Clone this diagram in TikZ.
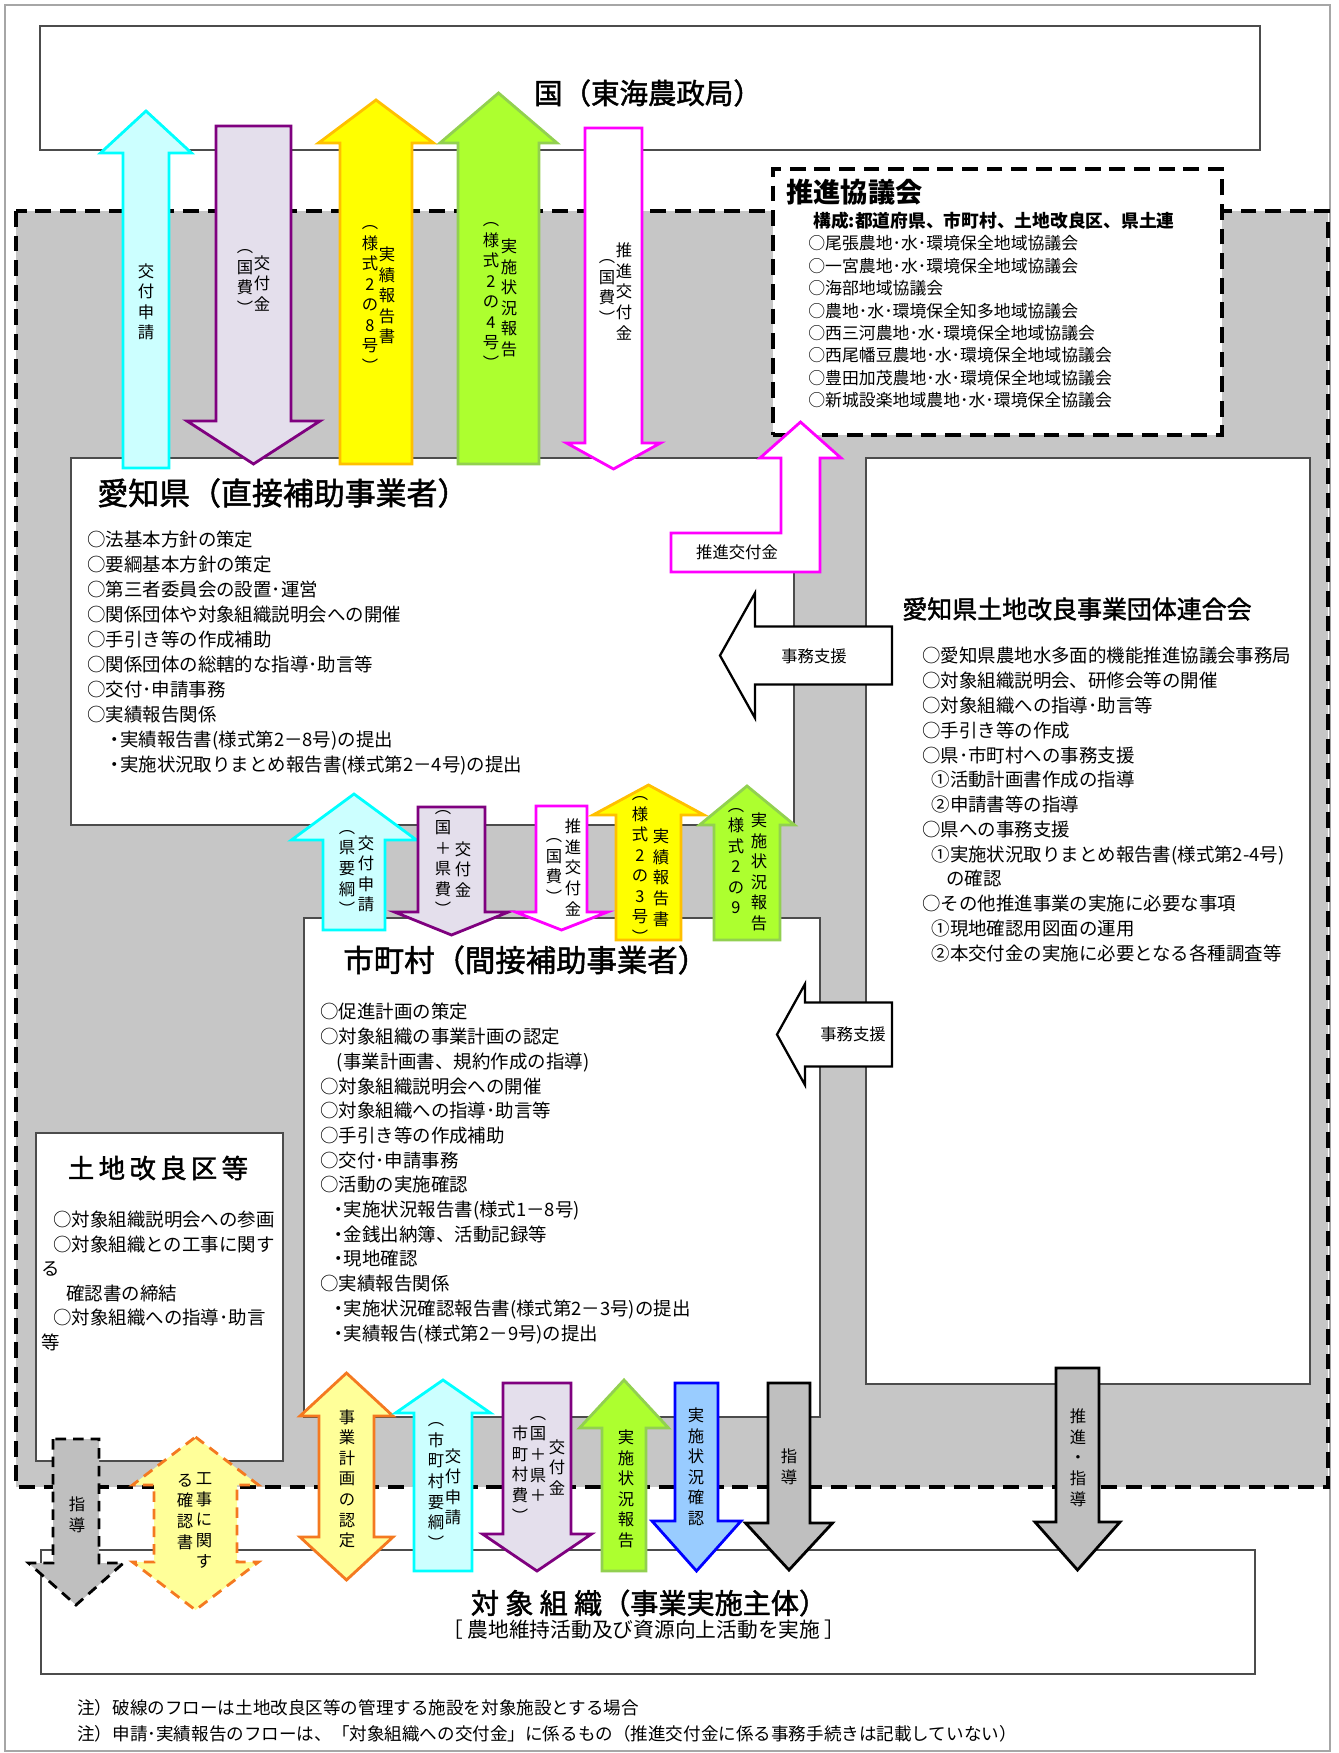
\documentclass[tikz,border=0pt]{standalone}
\usepackage{fontspec}
\setmainfont{Noto Sans CJK JP}
\newfontfamily\titlefont{Noto Sans CJK JP}[FakeBold=1.6]
\usetikzlibrary{fit}

\definecolor{cyanline}{HTML}{00FFFF}
\definecolor{cyanfill}{HTML}{CCFFFF}
\definecolor{purpleline}{HTML}{7F007F}
\definecolor{purplefill}{HTML}{E4DFEC}
\definecolor{yellowline}{HTML}{FFC000}
\definecolor{yellowfill}{HTML}{FFFF00}
\definecolor{greenline}{HTML}{92D050}
\definecolor{greenfill}{HTML}{ADFF2F}
\definecolor{pinkline}{HTML}{FF00FF}
\definecolor{orangeline}{HTML}{F47920}
\definecolor{paleyellow}{HTML}{FFFF99}
\definecolor{blueline}{HTML}{0000FF}
\definecolor{bluefill}{HTML}{99CCFF}
\definecolor{arrowgray}{HTML}{BFBFBF}
\definecolor{areagray}{HTML}{C6C6C6}

% block arrows: style, x, half shaft, half head, tail y, head y, tip y
\newcommand{\blockarr}[7]{\draw[#1] ({#2-#3},#5) -- ({#2-#3},#6) -- ({#2-#4},#6) -- (#2,#7) -- ({#2+#4},#6) -- ({#2+#3},#6) -- ({#2+#3},#5) -- cycle;}
\newcommand{\blockdbl}[8]{\draw[#1] (#2,#5) -- ({#2+#4},#6) -- ({#2+#3},#6) -- ({#2+#3},#7) -- ({#2+#4},#7) -- (#2,#8) -- ({#2-#4},#7) -- ({#2-#3},#7) -- ({#2-#3},#6) -- ({#2-#4},#6) -- cycle;}
\newcommand{\blockleft}[7]{\draw[#1] (#5,#2) -- (#6,{#2-#4}) -- (#6,{#2-#3}) -- (#7,{#2-#3}) -- (#7,{#2+#3}) -- (#6,{#2+#3}) -- (#6,{#2+#4}) -- cycle;}
\newcommand{\dotitem}[1]{\hspace*{#1}・\hspace{-0.22em}}

\tikzset{
  box/.style={draw=black!70, line width=0.8pt, fill=white, inner sep=0pt},
  dashbox/.style={draw=black, line width=2pt, dash pattern=on 9pt off 5pt},
  cyanarr/.style={draw=cyanline, fill=cyanfill, line width=1.6pt},
  purplearr/.style={draw=purpleline, fill=purplefill, line width=1.6pt},
  yellowarr/.style={draw=yellowline, fill=yellowfill, line width=1.6pt},
  greenarr/.style={draw=greenline, fill=greenfill, line width=1.6pt},
  pinkarr/.style={draw=pinkline, fill=white, line width=1.6pt},
  orangearr/.style={draw=orangeline, fill=paleyellow, line width=1.6pt},
  bluearr/.style={draw=blueline, fill=bluefill, line width=1.6pt},
  grayarr/.style={draw=black, fill=arrowgray, line width=1.6pt},
  jimuarr/.style={draw=black, fill=white, line width=1.3pt},
  vlab/.style={align=center, inner sep=0pt, font=\fontsize{9.3}{11.7}\selectfont,
    execute at begin node=\rule[-0.12em]{0pt}{1em}, execute at end node=\rule[-0.12em]{0pt}{1em}},
  blk/.style={align=left, inner sep=0pt, anchor=north west, execute at begin node=\rule{0pt}{0.88em}},
  ttl/.style={anchor=west, inner sep=0pt}
}

\begin{document}
\begin{tikzpicture}[x=0.02cm, y=-0.02cm]
\useasboundingbox (0,0) rectangle (1338,1753);
\draw[black!35, line width=0.6pt] (5,5) rectangle (1330,1751);
\draw[dashbox, fill=areagray] (16,211) rectangle (1328,1487);

% boxes
\node[box, fit={(40,26) (1260,150)}] (kuni) {};
\node[box, fit={(71,458) (794,825)}] (aichi) {};
\node[box, fit={(304,918) (820,1417)}] (shichoson) {};
\node[box, fit={(36,1133) (283,1461)}] (tochiku) {};
\node[box, fit={(866,458) (1310,1384)}] (rengokai) {};
\node[box, fit={(41,1550) (1255,1674)}] (soshiki) {};
\node[box, dashbox, fit={(773,169) (1222,435)}] (kyogikai) {};

% arrows 国 - 愛知県
\blockarr{cyanarr}{146}{23}{45.5}{468}{153}{111}
\blockarr{purplearr}{253.5}{37.5}{66.5}{126}{421}{464}
\blockarr{yellowarr}{376}{36}{57.5}{464}{143}{100}
\blockarr{greenarr}{498.5}{40.5}{58.5}{464}{143}{93}
\blockarr{pinkarr}{613.5}{28.5}{47}{128}{443}{469}
\draw[pinkarr] (671,533) -- (781,533) -- (781,458) -- (760,458) -- (800.5,422) -- (841,458) -- (820,458) -- (820,572) -- (671,572) -- cycle;

% 事務支援
\blockleft{jimuarr}{655.5}{29}{62.5}{720}{755}{892}
\blockleft{jimuarr}{1034.5}{32}{50.5}{777}{805}{892}

% arrows 愛知県 - 市町村
\blockarr{cyanarr}{354}{31}{62.5}{930}{840}{794}
\blockarr{purplearr}{451.5}{33.5}{57}{807}{912}{935}
\blockarr{pinkarr}{561.5}{25.5}{46}{806}{912}{930}
\blockarr{yellowarr}{648.5}{32.5}{55.5}{940}{815}{785}
\blockarr{greenarr}{747}{33}{47.5}{940}{825}{786}

% arrows to 対象組織
\blockarr{grayarr, dash pattern=on 6pt off 4pt}{76}{23}{47.5}{1439}{1563}{1605}
\blockdbl{orangearr, dash pattern=on 6pt off 4pt}{195.5}{41.5}{63}{1437}{1485}{1562}{1610}
\blockdbl{orangearr}{346.5}{27.5}{46.5}{1373}{1416}{1537}{1580}
\blockarr{cyanarr}{443}{29}{47.5}{1571}{1413}{1380}
\blockarr{purplearr}{537}{34}{54.5}{1383}{1534}{1571}
\blockarr{greenarr}{624}{22}{44.5}{1571}{1428}{1380}
\blockarr{bluearr}{696.5}{21.5}{44.5}{1383}{1521}{1571}
\blockarr{grayarr}{789}{21}{43.5}{1383}{1523}{1570}
\blockarr{grayarr}{1077.5}{21.5}{42.5}{1368}{1522}{1570}

% arrow labels
\node[vlab] (ta1) at (146,302) {交\\付\\申\\請};
\node[vlab] (ta2) at (262,284) {交\\付\\金};
\node[vlab] (tb2) at (245,283) {︵\\国\\費\\︶};
\node[vlab] (ta3) at (387,296) {実\\績\\報\\告\\書};
\node[vlab] (tb3) at (370,300) {︵\\様\\式\\2\\の\\8\\号\\︶};
\node[vlab] (ta4) at (509,298) {実\\施\\状\\況\\報\\告};
\node[vlab] (tb4) at (491,297) {︵\\様\\式\\2\\の\\4\\号\\︶};
\node[vlab] (ta5) at (624,292) {推\\進\\交\\付\\金};
\node[vlab] (tb5) at (607,293) {︵\\国\\費\\︶};
\node[inner sep=0pt, font=\fontsize{9.3}{11}\selectfont] (bent) at (737,552) {推進交付金};
\node[inner sep=0pt, font=\fontsize{9.3}{11}\selectfont] (jimu1) at (814,656) {事務支援};
\node[inner sep=0pt, font=\fontsize{9.3}{11}\selectfont] (jimu2) at (853,1034) {事務支援};

\node[vlab] (ma1) at (366,874) {交\\付\\申\\請};
\node[vlab] (mb1) at (347,874) {︵\\県\\要\\綱\\︶};
\node[vlab] (ma2) at (463,870) {交\\付\\金};
\node[vlab] (mb2) at (443,864) {︵\\国\\＋\\県\\費\\︶};
\node[vlab] (ma3) at (573,868) {推\\進\\交\\付\\金};
\node[vlab] (mb3) at (554,872) {︵\\国\\費\\︶};
\node[vlab] (ma4) at (661,878) {実\\績\\報\\告\\書};
\node[vlab] (mb4) at (640,871) {︵\\様\\式\\2\\の\\3\\号\\︶};
\node[vlab] (ma5) at (759,872) {実\\施\\状\\況\\報\\告};
\node[vlab] (mb5) at (736,862) {︵\\様\\式\\2\\の\\9};

\node[vlab] (ba1) at (77,1515) {指\\導};
\node[vlab] (ba2) at (204,1521) {工\\事\\に\\関\\す};
\node[vlab] (bb2) at (185,1512) {る\\確\\認\\書};
\node[vlab] (ba3) at (347,1479) {事\\業\\計\\画\\の\\認\\定};
\node[vlab] (ba4) at (453,1487) {交\\付\\申\\請};
\node[vlab] (bb4) at (436,1487) {︵\\市\\町\\村\\要\\綱\\︶};
\node[vlab] (ba5) at (557,1468) {交\\付\\金};
\node[vlab] (bb5) at (538,1460) {︵\\国\\＋\\県\\＋};
\node[vlab] (bc5) at (520,1475) {市\\町\\村\\費\\︶};
\node[vlab] (ba6) at (626,1489) {実\\施\\状\\況\\報\\告};
\node[vlab] (ba7) at (696,1467) {実\\施\\状\\況\\確\\認};
\node[vlab] (ba8) at (789,1467) {指\\導};
\node[vlab] (ba9) at (1078,1458) {推\\進\\・\\指\\導};

% box texts
\node[inner sep=0pt, font=\fontsize{16.2}{19}\titlefont] (kunititle) at (648,93) {国（東海農政局）};

\node[ttl, font=\fontsize{15.5}{18}\selectfont\bfseries] (kyogititle) at (786,192) {推進協議会};
\node[ttl, font=\fontsize{10.1}{12}\selectfont\bfseries] (kosei) at (813,221) {構成:都道府県、市町村、土地改良区、県土連};
\node[blk, font=\fontsize{9.6}{12.8}\selectfont] (kyogitext) at (808,235) {○尾張農地･水･環境保全地域協議会\\
○一宮農地･水･環境保全地域協議会\\
○海部地域協議会\\
○農地･水･環境保全知多地域協議会\\
○西三河農地･水･環境保全地域協議会\\
○西尾幡豆農地･水･環境保全地域協議会\\
○豊田加茂農地･水･環境保全地域協議会\\
○新城設楽地域農地･水･環境保全協議会};

\node[ttl, font=\fontsize{17.6}{20}\titlefont] (aichititle) at (97,493) {愛知県（直接補助事業者）};
\node[blk, font=\fontsize{10.5}{14.2}\selectfont] (aichitext) at (87,531) {○法基本方針の策定\\
○要綱基本方針の策定\\
○第三者委員会の設置･運営\\
○関係団体や対象組織説明会への開催\\
○手引き等の作成補助\\
○関係団体の総轄的な指導･助言等\\
○交付･申請事務\\
○実績報告関係\\
\dotitem{1em}実績報告書(様式第2－8号)の提出\\
\dotitem{1em}実施状況取りまとめ報告書(様式第2－4号)の提出};

\node[ttl, font=\fontsize{17.3}{20}\titlefont] (shititle) at (343,960) {市町村（間接補助事業者）};
\node[blk, font=\fontsize{10.5}{14.06}\selectfont] (shitext) at (320,1003) {○促進計画の策定\\
○対象組織の事業計画の認定\\
\hspace*{0.9em}(事業計画書、規約作成の指導)\\
○対象組織説明会への開催\\
○対象組織への指導･助言等\\
○手引き等の作成補助\\
○交付･申請事務\\
○活動の実施確認\\
\dotitem{0.5em}実施状況報告書(様式1－8号)\\
\dotitem{0.5em}金銭出納簿、活動記録等\\
\dotitem{0.5em}現地確認\\
○実績報告関係\\
\dotitem{0.5em}実施状況確認報告書(様式第2－3号)の提出\\
\dotitem{0.5em}実績報告(様式第2－9号)の提出};

\node[ttl, font=\fontsize{14.2}{17}\titlefont] (rengotitle) at (902,609) {愛知県土地改良事業団体連合会};
\node[blk, font=\fontsize{10.5}{14.1}\selectfont] (rengotext) at (922,647) {○愛知県農地水多面的機能推進協議会事務局\\
○対象組織説明会、研修会等の開催\\
○対象組織への指導･助言等\\
○手引き等の作成\\
○県･市町村への事務支援\\
\hspace*{0.5em}①活動計画書作成の指導\\
\hspace*{0.5em}②申請書等の指導\\
○県への事務支援\\
\hspace*{0.5em}①実施状況取りまとめ報告書(様式第2-4号)\\
\hspace*{1.3em}の確認\\
○その他推進事業の実施に必要な事項\\
\hspace*{0.5em}①現地確認用図面の運用\\
\hspace*{0.5em}②本交付金の実施に必要となる各種調査等};

\node[inner sep=0pt, font=\fontsize{15}{18}\titlefont] (tochititle) at (158,1168) {土\,地\,改\,良\,区\,等};
\node[blk, font=\fontsize{10.5}{13.9}\selectfont] (tochitext) at (41,1211) {\hspace*{0.65em}○対象組織説明会への参画\\
\hspace*{0.65em}○対象組織との工事に関す\\
る\\
\hspace*{1.35em}確認書の締結\\
\hspace*{0.65em}○対象組織への指導･助言\\
等};

\node[inner sep=0pt, font=\fontsize{16}{19}\titlefont] (soshikititle) at (649,1603) {対 象 組 織（事業実施主体）};
\node[inner sep=0pt, font=\fontsize{11.8}{14}\selectfont] (soshikisub) at (644,1630) {［ 農地維持活動及び資源向上活動を実施 ］};

\node[ttl, font=\fontsize{10}{12}\selectfont] (note1) at (77,1708) {注）破線のフローは土地改良区等の管理する施設を対象施設とする場合};
\node[ttl, font=\fontsize{10}{12}\selectfont] (note2) at (77,1734) {注）申請･実績報告のフローは、「対象組織への交付金」に係るもの（推進交付金に係る事務手続きは記載していない）};
\end{tikzpicture}
\end{document}
